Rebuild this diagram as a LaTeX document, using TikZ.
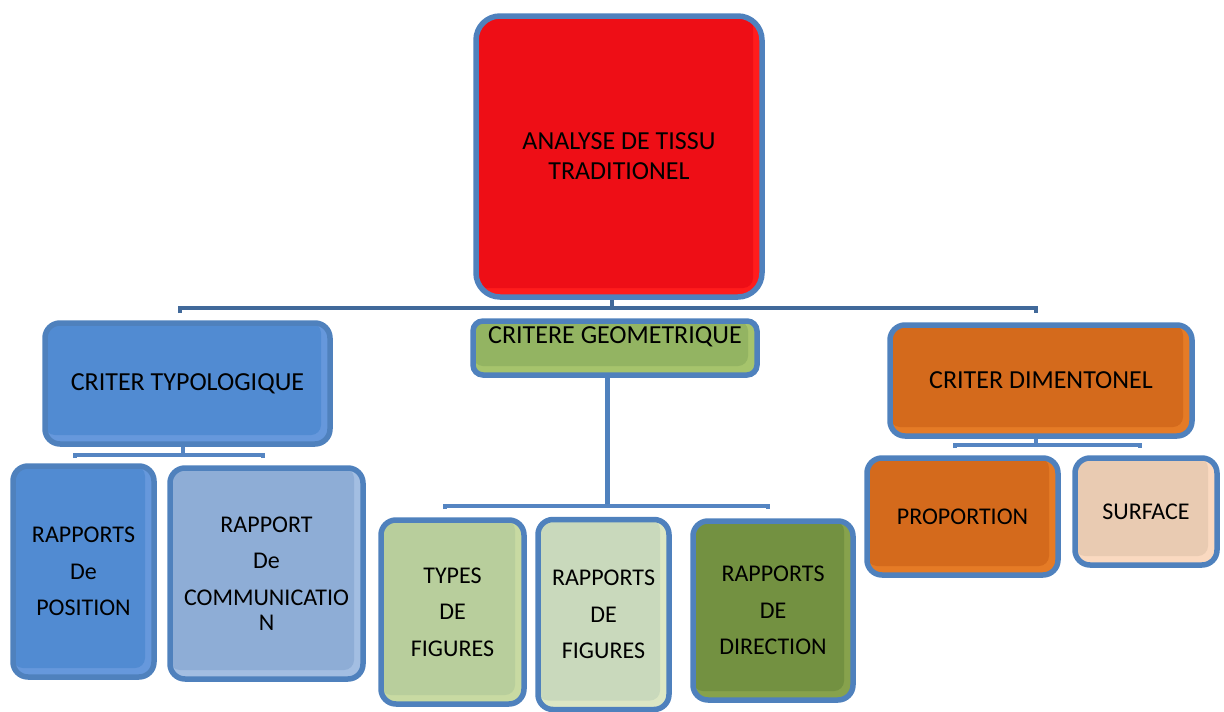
\documentclass[tikz,border=0pt]{standalone}
\usepackage{fontspec}
\setmainfont{Carlito}
\definecolor{bord}{HTML}{4F81BD}
\definecolor{busc}{HTML}{41699A}
\definecolor{subc}{HTML}{5585C2}
\definecolor{rootD}{HTML}{EE0E16}\definecolor{rootL}{HTML}{FF1C1C}
\definecolor{blueD}{HTML}{518BD2}\definecolor{blueL}{HTML}{6698DC}
\definecolor{commD}{HTML}{8EADD6}\definecolor{commL}{HTML}{A3BEE2}
\definecolor{geoD}{HTML}{93B462}\definecolor{geoL}{HTML}{A6C46C}
\definecolor{typD}{HTML}{B8CE9C}\definecolor{typL}{HTML}{C8DAA2}
\definecolor{rfD}{HTML}{C9D9BC}\definecolor{rfL}{HTML}{DCE7C4}
\definecolor{dirD}{HTML}{739141}\definecolor{dirL}{HTML}{87A24C}
\definecolor{orD}{HTML}{D46A1C}\definecolor{orL}{HTML}{E57B26}
\definecolor{surD}{HTML}{E9CBB2}\definecolor{surL}{HTML}{FAD9C0}
\begin{document}
\begin{tikzpicture}[x=1pt,y=-1pt,
  box/.style={rectangle, rounded corners=15pt, draw=bord, line width=5.5pt,
    inner sep=0pt, align=center, text=black,
    font=\fontsize{24}{36.5}\selectfont},
  boxc/.style 2 args={fill=#2, path picture={
    \fill[#1, rounded corners=10pt] (path picture bounding box.north west)
      rectangle ([xshift=-9pt,yshift=9pt]path picture bounding box.south east);}},
  bigtext/.style={font=\fontsize{26}{30}\selectfont},
  bus/.style={draw=busc, line width=4.5pt},
  sub/.style={draw=subc, line width=4pt},
  geoline/.style={draw=bord, line width=5pt}]
\useasboundingbox (0,0) rectangle (1224,712);

% nodes
\node[box, boxc={rootD}{rootL}, rounded corners=24pt, minimum width=286pt, minimum height=281pt, bigtext] (root) at (619,156.5) {ANALYSE DE TISSU\\TRADITIONEL};

\node[box, boxc={blueD}{blueL}, minimum width=285pt, minimum height=121pt, bigtext] (typo) at (187.5,383.5) {CRITER TYPOLOGIQUE};
\node[box, boxc={geoD}{geoL}, rounded corners=10pt, minimum width=284pt, minimum height=54pt] (geo) at (615,348) {};
\node[bigtext, inner sep=0pt] (geotxt) at (615,337) {CRITERE GEOMETRIQUE};
\node[box, boxc={orD}{orL}, minimum width=302pt, minimum height=111pt, bigtext] (dim) at (1041,380.5) {CRITER DIMENTONEL};

\node[box, boxc={blueD}{blueL}, minimum width=141pt, minimum height=211pt] (pos) at (83.5,571.5) {RAPPORTS\\De\\POSITION};
\node[box, boxc={commD}{commL}, minimum width=193pt, minimum height=211pt] (comm) at (266.5,573.5) {RAPPORT\\De\\COMMUNICATIO\\[-11.5pt]N};

\node[box, boxc={typD}{typL}, minimum width=143pt, minimum height=184pt] (types) at (452.5,612) {TYPES\\DE\\FIGURES};
\node[box, boxc={rfD}{rfL}, minimum width=131pt, minimum height=190pt] (rfig) at (603.5,614.5) {RAPPORTS\\DE\\FIGURES};
\node[box, boxc={dirD}{dirL}, minimum width=160pt, minimum height=179pt] (dir) at (773,610.5) {RAPPORTS\\DE\\DIRECTION};

\node[box, boxc={orD}{orL}, minimum width=191pt, minimum height=117pt] (prop) at (962.5,516.5) {PROPORTION};
\node[box, boxc={surD}{surL}, minimum width=142pt, minimum height=107pt] (surf) at (1146,511.5) {SURFACE};

% connectors
\coordinate (busL) at (180,308);
\coordinate (busR) at (1036,308);
\draw[bus] ([xshift=-7pt]root.south) -- ([xshift=-7pt]root.south |- busL);
\draw[bus] ([yshift=-5pt]busL) -- (busL) -- (busR) -- ([yshift=-5pt]busR);

\coordinate (tL) at (75,455);
\coordinate (tR) at (263,455);
\draw[sub] ([xshift=-5pt]typo.south) -- ([xshift=-5pt]typo.south |- tL);
\draw[sub] ([yshift=-3pt]tL) -- (tL) -- (tR) -- ([yshift=-3pt]tR);

\coordinate (gL) at (445,506);
\coordinate (gR) at (768,506);
\draw[geoline] ([xshift=-8pt]geo.south) -- ([xshift=-8pt]geo.south |- gL);
\draw[sub] ([yshift=-3pt]gL) -- (gL) -- (gR) -- ([yshift=-3pt]gR);

\coordinate (dL) at (955,445);
\coordinate (dR) at (1140,445);
\draw[sub] ([xshift=-5pt]dim.south) -- ([xshift=-5pt]dim.south |- dL);
\draw[sub] ([yshift=-3pt]dL) -- (dL) -- (dR) -- ([yshift=-3pt]dR);
\end{tikzpicture}
\end{document}
